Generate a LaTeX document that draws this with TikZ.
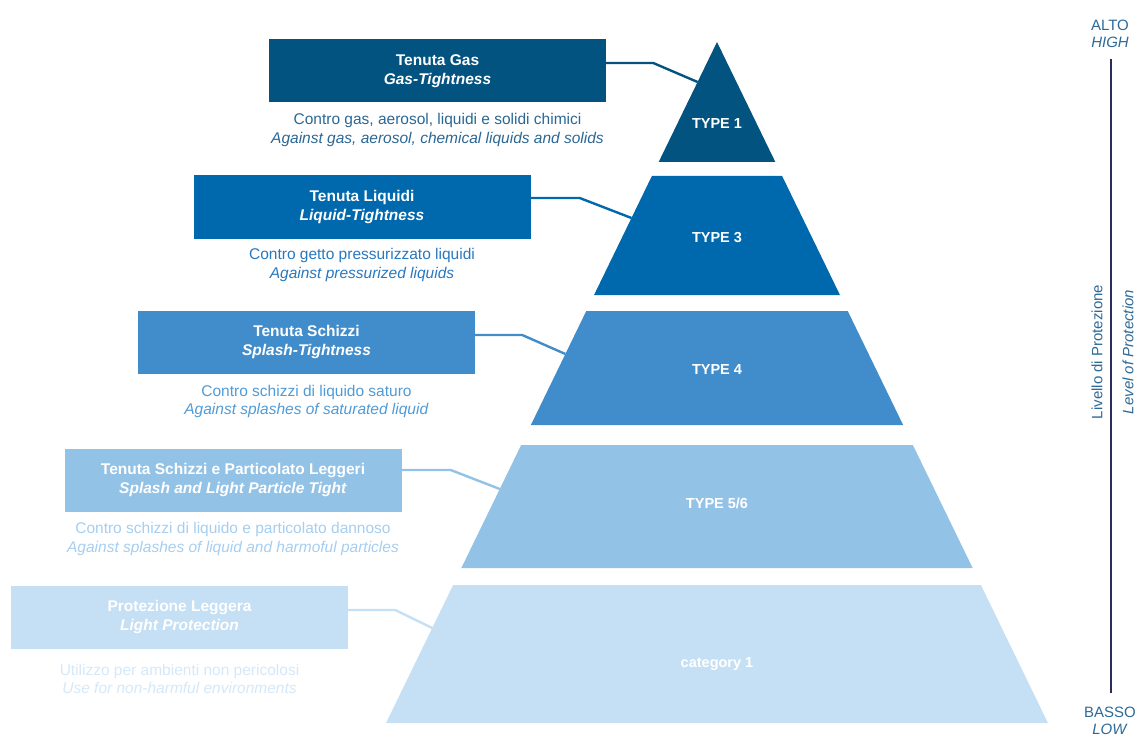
\documentclass[tikz,border=0pt]{standalone}
\usepackage{fontspec}
\setmainfont{Liberation Sans}
\usepackage{tikz}
\usepackage{color}

\definecolor{lvA}{RGB}{3,83,128}
\definecolor{lvB}{RGB}{0,104,172}
\definecolor{lvC}{RGB}{65,141,203}
\definecolor{lvD}{RGB}{147,194,231}
\definecolor{lvE}{RGB}{197,224,244}
\definecolor{descA}{RGB}{42,103,149}
\definecolor{descB}{RGB}{40,120,190}
\definecolor{descC}{RGB}{80,155,214}
\definecolor{descD}{RGB}{165,206,240}
\definecolor{descE}{RGB}{212,232,248}
\definecolor{axisline}{RGB}{40,45,95}
\definecolor{axistext}{RGB}{45,105,150}

\begin{document}
\begin{tikzpicture}[x=1pt,y=-1pt,
  levelbox/.style={minimum width=337pt,minimum height=63pt,inner sep=0pt,align=center,text=white,font=\fontsize{15.5}{18.5}\selectfont\bfseries},
  desc/.style={align=center,font=\fontsize{15.5}{18.5}\selectfont},
  typelabel/.style={text=white,font=\fontsize{14.5}{17}\selectfont\bfseries},
  axislabel/.style={text=axistext,align=center,font=\fontsize{15}{17.5}\selectfont},
  link/.style={line width=2.4pt}]
\useasboundingbox (0,0) rectangle (1137,738);
\foreach \yt/\yb/\col/\txt/\ly/\i in {42/162/lvA/{TYPE 1}/124/1,176/295/lvB/{TYPE 3}/238/3,311/425/lvC/{TYPE 4}/370/4,445/568/lvD/{TYPE 5/6}/503/5,585/723/lvE/{category 1}/664/6}{
  \fill[\col] ({717-0.486*(\yt-42)},\yt) -- ({717+0.486*(\yt-42)},\yt) -- ({717+0.486*(\yb-42)},\yb) -- ({717-0.486*(\yb-42)},\yb) -- cycle;
  \node[typelabel] (type\i) at (717,\ly) {\txt};
}
\node[levelbox,fill=lvA] (gas) at (437.5,71) {Tenuta Gas\\\textit{Gas-Tightness}};
\node[levelbox,fill=lvB] (liq) at (362,207) {Tenuta Liquidi\\\textit{Liquid-Tightness}};
\node[levelbox,fill=lvC] (spl) at (306.5,342) {Tenuta Schizzi\\\textit{Splash-Tightness}};
\node[levelbox,fill=lvD] (par) at (233,480) {Tenuta Schizzi e Particolato Leggeri\\\textit{Splash and Light Particle Tight}};
\node[levelbox,fill=lvE] (lig) at (179.5,617) {Protezione Leggera\\\textit{Light Protection}};
\node[desc,text=descA] (gasdesc) at (437.5,130) {Contro gas, aerosol, liquidi e solidi chimici\\\textit{Against gas, aerosol, chemical liquids and solids}};
\node[desc,text=descB] (liqdesc) at (362,265) {Contro getto pressurizzato liquidi\\\textit{Against pressurized liquids}};
\node[desc,text=descC] (spldesc) at (306.5,401.5) {Contro schizzi di liquido saturo\\\textit{Against splashes of saturated liquid}};
\node[desc,text=descD] (pardesc) at (233,539) {Contro schizzi di liquido e particolato dannoso\\\textit{Against splashes of liquid and harmoful particles}};
\node[desc,text=descE] (ligdesc) at (179.5,679) {Utilizzo per ambienti non pericolosi\\\textit{Use for non-harmful environments}};
\coordinate (gasend) at ({717-0.486*(82-42)},82);
\coordinate (liqend) at ({717-0.486*(218-42)},218);
\coordinate (splend) at ({717-0.486*(354-42)},354);
\coordinate (parend) at ({717-0.486*(489-42)},489);
\coordinate (ligend) at ({717-0.486*(628-42)},628);
\draw[link,lvA] ([yshift=8pt]gas.east) -- ++(47,0) -- (gasend);
\draw[link,lvB] ([yshift=9pt]liq.east) -- ++(49,0) -- (liqend);
\draw[link,lvC] ([yshift=7pt]spl.east) -- ++(47,0) -- (splend);
\draw[link,lvD] ([yshift=10pt]par.east) -- ++(49,0) -- (parend);
\draw[link,lvE] ([yshift=7pt]lig.east) -- ++(47,0) -- (ligend);
\coordinate (axtop) at (1111,59);
\coordinate (axbot) at (1111,693);
\draw[axisline,line width=2pt] (axtop) -- (axbot);
\node[axislabel] (high) at (1110,34) {ALTO\\\textit{HIGH}};
\node[axislabel] (low) at (1110,721) {BASSO\\\textit{LOW}};
\node[axislabel,rotate=90] (livello) at (1097,352) {Livello di Protezione};
\node[axislabel,rotate=90] (level) at (1128,352) {\textit{Level of Protection}};
\end{tikzpicture}
\end{document}
